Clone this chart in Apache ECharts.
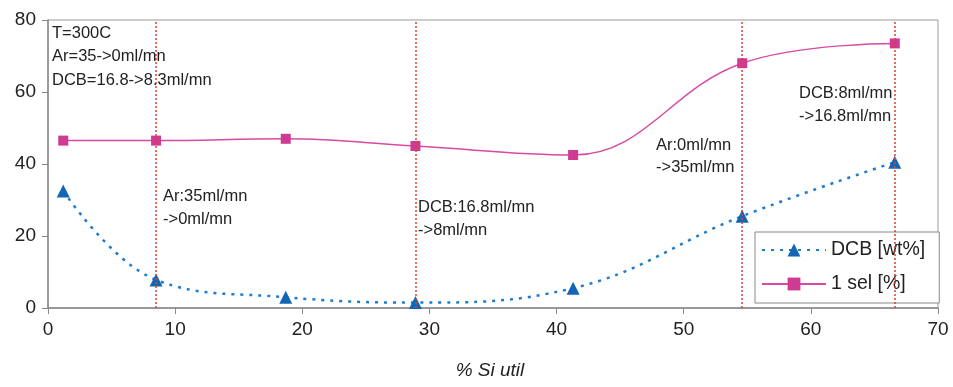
<!DOCTYPE html>
<html><head><meta charset="utf-8">
<script src="https://cdn.jsdelivr.net/npm/echarts@6/dist/echarts.min.js"></script>
<style>html,body{margin:0;padding:0;background:#fff}#c{width:953px;height:387px}</style>
</head><body><div id="c"></div>
<script>
const xSi = [1.2, 8.5, 18.7, 28.9, 41.3, 54.6, 66.6];
const dcb = [32.5, 7.8, 3.0, 1.5, 5.5, 25.5, 40.5];
const sel = [46.5, 46.5, 47.0, 45.0, 42.5, 68.0, 73.5];
const changeX = [8.5, 28.9, 54.6, 66.6];
const notes = [
  {lines:['T=300C','Ar=35->0ml/mn','DCB=16.8->8.3ml/mn'], x:52, y:33, lh:23.5},
  {lines:['Ar:35ml/mn','->0ml/mn'], x:163, y:196, lh:23},
  {lines:['DCB:16.8ml/mn','->8ml/mn'], x:418, y:207, lh:23},
  {lines:['Ar:0ml/mn','->35ml/mn'], x:656, y:145, lh:22.5},
  {lines:['DCB:8ml/mn','->16.8ml/mn'], x:799, y:93, lh:23.5}
];
const font = 'Liberation Sans, Arial, sans-serif';
const chart = echarts.init(document.getElementById('c'));
const gr = [];
notes.forEach(n => n.lines.forEach((t,i) => gr.push({type:'text', x:n.x, y:n.y+i*n.lh, z:10,
  style:{text:t, fontSize:16.5, fontFamily:font, fill:'#222', verticalAlign:'middle'}})));
gr.push({type:'text', x:490, y:371, style:{text:'% Si util', fontSize:19, fontStyle:'italic', fontFamily:font, fill:'#222', align:'center', verticalAlign:'middle'}});
chart.setOption({
  animation:false,
  grid:{left:48, right:15, top:20, bottom:79, show:true, borderColor:'#999', borderWidth:1},
  xAxis:{type:'value', min:0, max:70, interval:10,
    axisLine:{lineStyle:{color:'#888', width:1.5}}, axisTick:{show:true, length:6, lineStyle:{color:'#888'}},
    axisLabel:{fontSize:19, color:'#222', fontFamily:font, margin:12}, splitLine:{show:false}},
  yAxis:{type:'value', min:0, max:80, interval:20,
    axisLine:{show:true, lineStyle:{color:'#888', width:1.5}}, axisTick:{show:true, length:6, lineStyle:{color:'#888'}},
    axisLabel:{fontSize:19, color:'#222', fontFamily:font, margin:12}, splitLine:{show:false}},
  legend:{left:755, top:232, orient:'vertical', itemWidth:64, itemHeight:16, itemGap:14, z:1,
    padding:[8,14,9,6], borderColor:'#888', borderWidth:1, backgroundColor:'#fff',
    textStyle:{fontSize:19.5, color:'#222', fontFamily:font},
    data:['DCB [wt%]','1 sel [%]']},
  graphic:gr,
  series:[
    {name:'DCB [wt%]', type:'line', smooth:0.4, data:xSi.map((x,i)=>[x,dcb[i]]),
      symbol:'triangle', symbolSize:13, z:5,
      lineStyle:{color:'#1f7ccc', width:2.5, type:[3,6]}, itemStyle:{color:'#1466b4'},
      markLine:{silent:true, symbol:'none', label:{show:false}, z:6,
        lineStyle:{color:'#e0402e', type:[2,2], width:1.5},
        data:changeX.map(x=>({xAxis:x}))}},
    {name:'1 sel [%]', type:'line', smooth:0.4, data:xSi.map((x,i)=>[x,sel[i]]),
      symbol:'rect', symbolSize:10, z:5,
      lineStyle:{color:'#d84aa3', width:1.5}, itemStyle:{color:'#cf3a93'}}
  ]
});
</script></body></html>
